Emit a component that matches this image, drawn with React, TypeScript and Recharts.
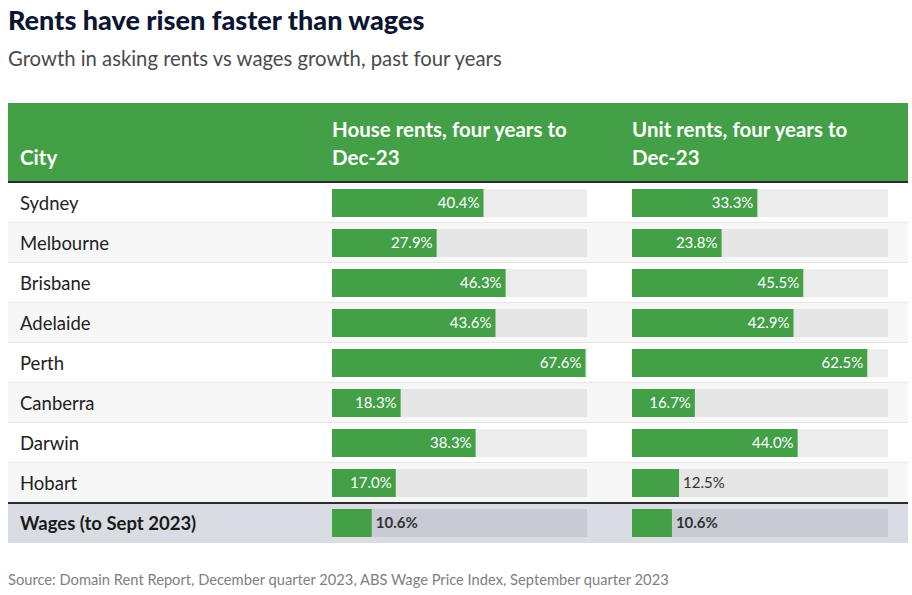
import { Bar, BarChart, LabelList, XAxis, YAxis } from "recharts";

const cities = [
  "Sydney", "Melbourne", "Brisbane", "Adelaide", "Perth",
  "Canberra", "Darwin", "Hobart", "Wages (to Sept 2023)",
];
const houseRents = [40.4, 27.9, 46.3, 43.6, 67.6, 18.3, 38.3, 17.0, 10.6];
const unitRents = [33.3, 23.8, 45.5, 42.9, 62.5, 16.7, 44.0, 12.5, 10.6];
const headerCity = ["City"];
const headerHouse = ["House rents, four years to", "Dec-23"];
const headerUnit = ["Unit rents, four years to", "Dec-23"];

const rows = cities.map((city, i) => ({ city, house: houseRents[i], unit: unitRents[i] }));

const GREEN = "#43a047";
const FONT = "Lato, 'Noto Sans', sans-serif";
const ROW_H = 40;
const TOP = 183;
const WAGES = cities.length - 1;

const trackFill = (i: number) => (i === WAGES ? "#c8cbd3" : i % 2 ? "#e6e6e6" : "#ececec");

const Track = (p: any) => (
  <rect x={p.x} y={p.y} width={p.width} height={p.height} fill={trackFill(p.index)} />
);

const ValueLabel = (p: any) => {
  const { x, y, width, height, value, index } = p;
  const inside = value >= 15;
  return (
    <text
      x={inside ? x + width - 4 : x + width + 4}
      y={y + height / 2}
      dy="0.36em"
      textAnchor={inside ? "end" : "start"}
      fill={inside ? "#ffffff" : "#333333"}
      fontSize={15}
      fontWeight={index === WAGES ? 700 : 400}
      fontFamily={FONT}
    >
      {`${Number(value).toFixed(1)}%`}
    </text>
  );
};

const CityTick = (p: any) => {
  const { y, payload, index } = p;
  return (
    <text
      x={12}
      y={y}
      dy="0.36em"
      textAnchor="start"
      fill={index === WAGES ? "#1a1a1a" : "#222222"}
      fontSize={18.5}
      fontWeight={index === WAGES ? 700 : 400}
      fontFamily={FONT}
    >
      {payload.value}
    </text>
  );
};

function HeaderCell({ lines, left }: { lines: string[]; left: number }) {
  return (
    <div style={{
      position: "absolute", left, top: 115 + (2 - lines.length) * 28,
      color: "#fff", fontWeight: 700, fontSize: 20.5, lineHeight: "28px", whiteSpace: "nowrap",
    }}>
      {lines.map((l) => <div key={l}>{l}</div>)}
    </div>
  );
}

export default function App() {
  return (
    <div style={{
      position: "absolute", left: 0, top: 0, width: 912, height: 595,
      background: "#fff", fontFamily: FONT, overflow: "hidden",
    }}>
      <div style={{ position: "absolute", left: 8, top: 4, fontSize: 27, fontWeight: 900, color: "#0c1632", lineHeight: "32px", whiteSpace: "nowrap" }}>
        Rents have risen faster than wages
      </div>
      <div style={{ position: "absolute", left: 8, top: 45, fontSize: 20.3, color: "#4a4a4a", lineHeight: "26px", whiteSpace: "nowrap" }}>
        Growth in asking rents vs wages growth, past four years
      </div>

      <div style={{ position: "absolute", left: 8, top: 103, width: 900, height: 78, background: GREEN }} />
      <div style={{ position: "absolute", left: 8, top: 181, width: 900, height: 2, background: "#2b2b2b" }} />
      <HeaderCell lines={headerCity} left={20} />
      <HeaderCell lines={headerHouse} left={332} />
      <HeaderCell lines={headerUnit} left={632} />

      {rows.map((r, i) => {
        const wages = i === WAGES;
        return (
          <div key={r.city} style={{
            position: "absolute", left: 8, width: 900,
            top: wages ? TOP + i * ROW_H + 1 : TOP + i * ROW_H,
            height: 39,
            background: wages ? "#d9dce3" : i % 2 ? "#f7f7f7" : "#ffffff",
            borderBottom: wages || i === WAGES - 1 ? "none" : "1px solid #e6e6e6",
          }} />
        );
      })}
      <div style={{ position: "absolute", left: 8, top: TOP + WAGES * ROW_H - 1, width: 900, height: 2, background: "#2b2b2b" }} />

      <div style={{ position: "absolute", left: 8, top: TOP }}>
        <BarChart width={579} height={ROW_H * cities.length} data={rows} layout="vertical"
          margin={{ top: 0, right: 0, bottom: 0, left: 0 }}>
          <XAxis type="number" domain={[0, 68]} hide />
          <YAxis type="category" dataKey="city" width={324} axisLine={false} tickLine={false}
            tick={<CityTick />} interval={0} />
          <Bar dataKey="house" fill={GREEN} barSize={28} background={Track} isAnimationActive={false}>
            <LabelList dataKey="house" content={<ValueLabel />} />
          </Bar>
        </BarChart>
      </div>

      <div style={{ position: "absolute", left: 632, top: TOP }}>
        <BarChart width={256} height={ROW_H * cities.length} data={rows} layout="vertical"
          margin={{ top: 0, right: 0, bottom: 0, left: 0 }}>
          <XAxis type="number" domain={[0, 68]} hide />
          <YAxis type="category" dataKey="city" hide />
          <Bar dataKey="unit" fill={GREEN} barSize={28} background={Track} isAnimationActive={false}>
            <LabelList dataKey="unit" content={<ValueLabel />} />
          </Bar>
        </BarChart>
      </div>

      <div style={{ position: "absolute", left: 8, top: 569, fontSize: 14.7, color: "#808080", lineHeight: "20px", whiteSpace: "nowrap" }}>
        Source: Domain Rent Report, December quarter 2023, ABS Wage Price Index, September quarter 2023
      </div>
    </div>
  );
}
